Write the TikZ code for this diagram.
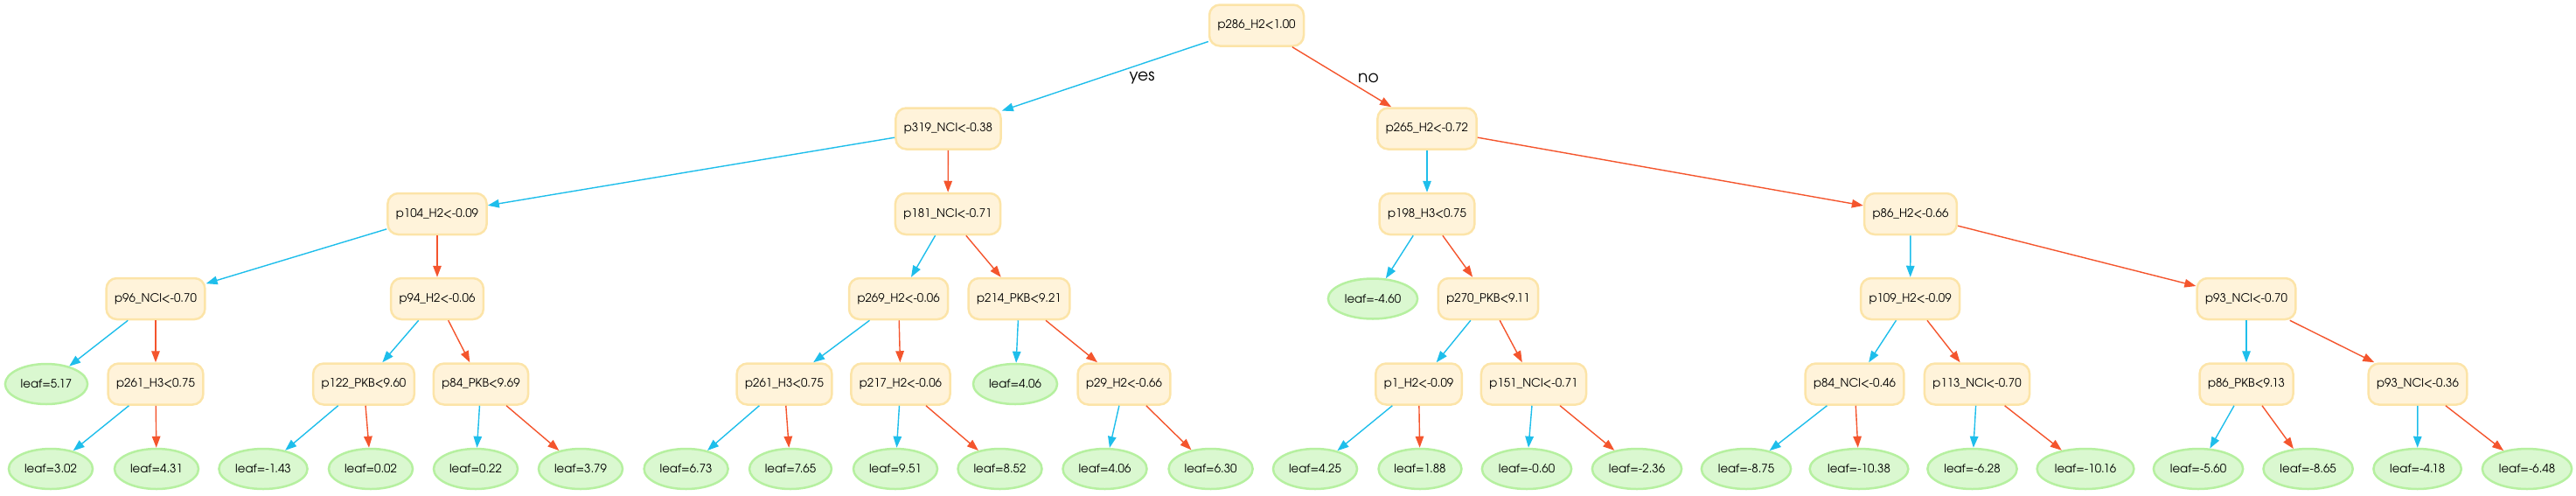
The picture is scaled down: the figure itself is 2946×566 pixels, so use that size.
\documentclass[tikz,border=0pt]{standalone}
\usepackage{fontspec}
\setmainfont{TeX Gyre Adventor}
\usetikzlibrary{arrows.meta,shapes.geometric}
\definecolor{boxfill}{HTML}{FFF3DA}
\definecolor{boxdraw}{HTML}{FCE4A8}
\definecolor{leaffill}{HTML}{DAF8D0}
\definecolor{leafdraw}{HTML}{B6F0A0}
\definecolor{yescol}{HTML}{1EBEEB}
\definecolor{nocol}{HTML}{F4552D}
\begin{document}
\begin{tikzpicture}[x=1pt,y=-1pt,
  split/.style={draw=boxdraw, fill=boxfill, line width=2.5pt, rounded corners=12pt,
    minimum height=47pt, minimum width=70pt, inner xsep=9.5pt, inner ysep=0pt,
    font=\fontsize{13.3}{16}\selectfont},
  leaf/.style={ellipse, draw=leafdraw, fill=leaffill, line width=2.5pt,
    minimum height=46pt, inner xsep=4pt, inner ysep=0pt,
    font=\fontsize{13.3}{16}\selectfont},
  yesedge/.style={draw=yescol, line width=1.4pt, -{Triangle[length=13pt,width=9.5pt]}},
  noedge/.style={draw=nocol, line width=1.4pt, -{Triangle[length=13pt,width=9.5pt]}},
  elabel/.style={font=\fontsize{18.7}{22}\selectfont, inner sep=0pt}
]
\useasboundingbox (0,0) rectangle (2946,566);
% level 0
\node[split] (n) at (1437,29) {p286\_H2<1.00};
% level 1
\node[split] (n1) at (1084.5,147) {p319\_NCl<-0.38};
\node[split] (n2) at (1632,147) {p265\_H2<-0.72};
% level 2
\node[split] (n11) at (500,244.5) {p104\_H2<-0.09};
\node[split] (n12) at (1084,244.5) {p181\_NCl<-0.71};
\node[split] (n21) at (1632,244.5) {p198\_H3<0.75};
\node[split] (n22) at (2185,244.5) {p86\_H2<-0.66};
% level 3
\node[split] (n111) at (178,341.5) {p96\_NCl<-0.70};
\node[split] (n112) at (500,341.5) {p94\_H2<-0.06};
\node[split] (n121) at (1027.6,341.5) {p269\_H2<-0.06};
\node[split] (n122) at (1165.5,341.5) {p214\_PKB<9.21};
\node[leaf]  (n211) at (1570,341.5) {leaf=-4.60};
\node[split] (n212) at (1702,341.5) {p270\_PKB<9.11};
\node[split] (n221) at (2184.6,341.5) {p109\_H2<-0.09};
\node[split] (n222) at (2569,341.5) {p93\_NCl<-0.70};
% level 4
\node[leaf]  (n1111) at (53,439) {leaf=5.17};
\node[split] (n1112) at (178,439) {p261\_H3<0.75};
\node[split] (n1121) at (416,439) {p122\_PKB<9.60};
\node[split] (n1122) at (550,439) {p84\_PKB<9.69};
\node[split] (n1211) at (897,439) {p261\_H3<0.75};
\node[split] (n1212) at (1030,439) {p217\_H2<-0.06};
\node[leaf]  (n1221) at (1161,439) {leaf=4.06};
\node[split] (n1222) at (1285.5,439) {p29\_H2<-0.66};
\node[split] (n2121) at (1622.5,439) {p1\_H2<-0.09};
\node[split] (n2122) at (1754,439) {p151\_NCl<-0.71};
\node[split] (n2211) at (2121,439) {p84\_NCl<-0.46};
\node[split] (n2212) at (2261,439) {p113\_NCl<-0.70};
\node[split] (n2221) at (2569,439) {p86\_PKB<9.13};
\node[split] (n2222) at (2765,439) {p93\_NCl<-0.36};
% level 5
\node[leaf] (n11121) at (58,536) {leaf=3.02};
\node[leaf] (n11122) at (179,536) {leaf=4.31};
\node[leaf] (n11211) at (301,536) {leaf=-1.43};
\node[leaf] (n11212) at (424,536) {leaf=0.02};
\node[leaf] (n11221) at (544,536) {leaf=0.22};
\node[leaf] (n11222) at (664,536) {leaf=3.79};
\node[leaf] (n12111) at (784.6,536) {leaf=6.73};
\node[leaf] (n12112) at (904,536) {leaf=7.65};
\node[leaf] (n12121) at (1024,536) {leaf=9.51};
\node[leaf] (n12122) at (1143.5,536) {leaf=8.52};
\node[leaf] (n12221) at (1263.5,536) {leaf=4.06};
\node[leaf] (n12222) at (1384.6,536) {leaf=6.30};
\node[leaf] (n21211) at (1504,536) {leaf=4.25};
\node[leaf] (n21212) at (1624,536) {leaf=1.88};
\node[leaf] (n21221) at (1746,536) {leaf=-0.60};
\node[leaf] (n21222) at (1872,536) {leaf=-2.36};
\node[leaf] (n22111) at (1997,536) {leaf=-8.75};
\node[leaf] (n22112) at (2126,536) {leaf=-10.38};
\node[leaf] (n22121) at (2255.5,536) {leaf=-6.28};
\node[leaf] (n22122) at (2385,536) {leaf=-10.16};
\node[leaf] (n22211) at (2514,536) {leaf=-5.60};
\node[leaf] (n22212) at (2639.6,536) {leaf=-8.65};
\node[leaf] (n22221) at (2764.6,536) {leaf=-4.18};
\node[leaf] (n22222) at (2890,536) {leaf=-6.48};
% edge labels
\node[elabel] (lyes) at (1306,89) {yes};
\node[elabel] (lno) at (1565,89) {no};
% edges
\draw[yesedge] (n) -- (n1);   \draw[noedge] (n) -- (n2);
\draw[yesedge] (n1) -- (n11); \draw[noedge] (n1) -- (n12);
\draw[yesedge] (n2) -- (n21); \draw[noedge] (n2) -- (n22);
\draw[yesedge] (n11) -- (n111); \draw[noedge] (n11) -- (n112);
\draw[yesedge] (n12) -- (n121); \draw[noedge] (n12) -- (n122);
\draw[yesedge] (n21) -- (n211); \draw[noedge] (n21) -- (n212);
\draw[yesedge] (n22) -- (n221); \draw[noedge] (n22) -- (n222);
\draw[yesedge] (n111) -- (n1111); \draw[noedge] (n111) -- (n1112);
\draw[yesedge] (n112) -- (n1121); \draw[noedge] (n112) -- (n1122);
\draw[yesedge] (n121) -- (n1211); \draw[noedge] (n121) -- (n1212);
\draw[yesedge] (n122) -- (n1221); \draw[noedge] (n122) -- (n1222);
\draw[yesedge] (n212) -- (n2121); \draw[noedge] (n212) -- (n2122);
\draw[yesedge] (n221) -- (n2211); \draw[noedge] (n221) -- (n2212);
\draw[yesedge] (n222) -- (n2221); \draw[noedge] (n222) -- (n2222);
\draw[yesedge] (n1112) -- (n11121); \draw[noedge] (n1112) -- (n11122);
\draw[yesedge] (n1121) -- (n11211); \draw[noedge] (n1121) -- (n11212);
\draw[yesedge] (n1122) -- (n11221); \draw[noedge] (n1122) -- (n11222);
\draw[yesedge] (n1211) -- (n12111); \draw[noedge] (n1211) -- (n12112);
\draw[yesedge] (n1212) -- (n12121); \draw[noedge] (n1212) -- (n12122);
\draw[yesedge] (n1222) -- (n12221); \draw[noedge] (n1222) -- (n12222);
\draw[yesedge] (n2121) -- (n21211); \draw[noedge] (n2121) -- (n21212);
\draw[yesedge] (n2122) -- (n21221); \draw[noedge] (n2122) -- (n21222);
\draw[yesedge] (n2211) -- (n22111); \draw[noedge] (n2211) -- (n22112);
\draw[yesedge] (n2212) -- (n22121); \draw[noedge] (n2212) -- (n22122);
\draw[yesedge] (n2221) -- (n22211); \draw[noedge] (n2221) -- (n22212);
\draw[yesedge] (n2222) -- (n22221); \draw[noedge] (n2222) -- (n22222);
\end{tikzpicture}
\end{document}
